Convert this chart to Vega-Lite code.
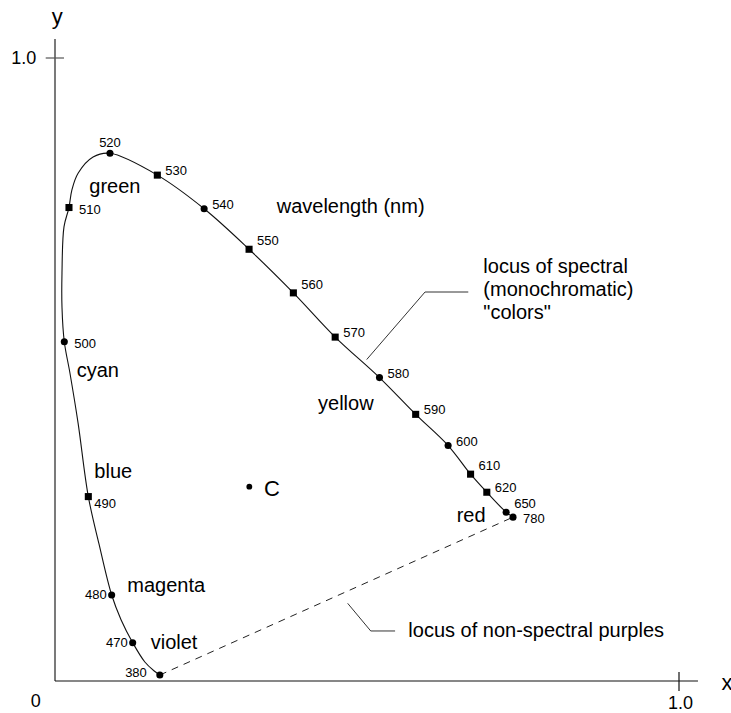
{
  "$schema": "https://vega.github.io/schema/vega-lite/v6.json",
  "width": 731,
  "height": 713,
  "padding": 0,
  "autosize": {"type": "none"},
  "background": "white",
  "config": {"view": {"stroke": null}, "font": "Liberation Sans"},
  "datasets": {
    "axes": [
      {"part": "yaxis", "x": 0, "y": 0, "x2": 0, "y2": 1.0305},
      {"part": "ytick", "x": -0.0149, "y": 1.0, "x2": 0.0144, "y2": 1.0},
      {"part": "xaxis", "x": 0, "y": 0, "x2": 1.0304, "y2": 0},
      {"part": "xtick", "x": 1.0, "y": 0.0144, "x2": 1.0, "y2": -0.016}
    ],
    "axisNumbers": [
      {"text": "1.0", "x": -0.0502, "y": 0.9899},
      {"text": "0", "x": -0.0308, "y": -0.0413},
      {"text": "1.0", "x": 1.0024, "y": -0.0455}
    ],
    "axisLetters": [
      {"text": "y", "x": 0.0037, "y": 1.0546},
      {"text": "x", "x": 1.0769, "y": -0.0145}
    ],
    "purpleLine": [
      {"x": 0.168, "y": 0.0096, "x2": 0.734, "y2": 0.263}
    ],
    "callouts": [
      {"x": 0.4995, "y": 0.516, "x2": 0.593, "y2": 0.6244},
      {"x": 0.593, "y": 0.6244, "x2": 0.6623, "y2": 0.6244},
      {"x": 0.469, "y": 0.1247, "x2": 0.506, "y2": 0.0803},
      {"x": 0.506, "y": 0.0803, "x2": 0.545, "y2": 0.0803}
    ],
    "locus": [
      {"wl": 380, "x": 0.168, "y": 0.0096, "marker": "circle", "side": "lo"},
      {"wl": 440, "x": 0.159, "y": 0.016, "marker": "", "side": ""},
      {"wl": 460, "x": 0.144, "y": 0.0305, "marker": "", "side": ""},
      {"wl": 470, "x": 0.1245, "y": 0.0615, "marker": "circle", "side": "l"},
      {"wl": 475, "x": 0.106, "y": 0.098, "marker": "", "side": ""},
      {"wl": 480, "x": 0.0908, "y": 0.138, "marker": "circle", "side": "l"},
      {"wl": 485, "x": 0.0705, "y": 0.22, "marker": "", "side": ""},
      {"wl": 490, "x": 0.0534, "y": 0.296, "marker": "square", "side": "rb"},
      {"wl": 493, "x": 0.037, "y": 0.414, "marker": "", "side": ""},
      {"wl": 497, "x": 0.024, "y": 0.494, "marker": "", "side": ""},
      {"wl": 500, "x": 0.0149, "y": 0.5446, "marker": "circle", "side": "rr"},
      {"wl": 503, "x": 0.0112, "y": 0.6, "marker": "", "side": ""},
      {"wl": 505, "x": 0.0112, "y": 0.655, "marker": "", "side": ""},
      {"wl": 507, "x": 0.0144, "y": 0.729, "marker": "", "side": ""},
      {"wl": 510, "x": 0.0224, "y": 0.76, "marker": "square", "side": "rr"},
      {"wl": 512, "x": 0.027, "y": 0.788, "marker": "", "side": ""},
      {"wl": 514, "x": 0.037, "y": 0.815, "marker": "", "side": ""},
      {"wl": 517, "x": 0.061, "y": 0.841, "marker": "", "side": ""},
      {"wl": 520, "x": 0.0881, "y": 0.847, "marker": "circle", "side": "top"},
      {"wl": 530, "x": 0.164, "y": 0.812, "marker": "square", "side": "r"},
      {"wl": 540, "x": 0.239, "y": 0.758, "marker": "circle", "side": "r"},
      {"wl": 550, "x": 0.311, "y": 0.693, "marker": "square", "side": "ur"},
      {"wl": 560, "x": 0.382, "y": 0.623, "marker": "square", "side": "ur"},
      {"wl": 570, "x": 0.449, "y": 0.552, "marker": "square", "side": "r"},
      {"wl": 580, "x": 0.52, "y": 0.487, "marker": "circle", "side": "r"},
      {"wl": 590, "x": 0.578, "y": 0.428, "marker": "square", "side": "r"},
      {"wl": 600, "x": 0.63, "y": 0.378, "marker": "circle", "side": "r"},
      {"wl": 610, "x": 0.666, "y": 0.332, "marker": "square", "side": "ur"},
      {"wl": 620, "x": 0.692, "y": 0.303, "marker": "square", "side": "r"},
      {"wl": 650, "x": 0.723, "y": 0.271, "marker": "circle", "side": "ur"},
      {"wl": 780, "x": 0.734, "y": 0.263, "marker": "circle", "side": "rr"}
    ],
    "whitePoint": [
      {"name": "C", "x": 0.3114, "y": 0.3119}
    ],
    "notes": [
      {"text": "green", "x": 0.055, "y": 0.7828},
      {"text": "wavelength (nm)", "x": 0.3553, "y": 0.7507},
      {"text": "cyan", "x": 0.0348, "y": 0.4884},
      {"text": "blue", "x": 0.063, "y": 0.3254},
      {"text": "magenta", "x": 0.1159, "y": 0.1433},
      {"text": "violet", "x": 0.1534, "y": 0.0509},
      {"text": "yellow", "x": 0.4215, "y": 0.435},
      {"text": "red", "x": 0.6437, "y": 0.2557},
      {"text": "locus of non-spectral purples", "x": 0.5662, "y": 0.0711}
    ],
    "spectralNote": [
      {"text": ["locus of spectral", "(monochromatic)", "\"colors\""], "x": 0.6864, "y": 0.6554}
    ],
    "bigLetter": [
      {"text": "C", "x": 0.3349, "y": 0.2974}
    ]
  },
  "encoding": {
    "x": {"field": "x", "type": "quantitative", "axis": null, "scale": {"domain": [-0.08814, 1.08333], "nice": false, "zero": false}},
    "y": {"field": "y", "type": "quantitative", "axis": null, "scale": {"domain": [-0.05136, 1.0931], "nice": false, "zero": false}}
  },
  "layer": [
    {
      "data": {"name": "axes"},
      "mark": {"type": "rule"},
      "encoding": {
        "x2": {"field": "x2"},
        "y2": {"field": "y2"},
        "color": {"field": "part", "type": "nominal", "legend": null,
          "scale": {"domain": ["yaxis", "ytick", "xaxis", "xtick"], "range": ["#7a7a7a", "#555555", "#111111", "#111111"]}},
        "strokeWidth": {"field": "part", "type": "nominal", "legend": null,
          "scale": {"type": "ordinal", "domain": ["yaxis", "ytick", "xaxis", "xtick"], "range": [2, 1.2, 1.2, 1.2]}}
      }
    },
    {
      "data": {"name": "purpleLine"},
      "mark": {"type": "rule", "color": "#222222", "strokeWidth": 1, "strokeDash": [7, 6]},
      "encoding": {"x2": {"field": "x2"}, "y2": {"field": "y2"}}
    },
    {
      "data": {"name": "callouts"},
      "mark": {"type": "rule", "color": "#333333", "strokeWidth": 1},
      "encoding": {"x2": {"field": "x2"}, "y2": {"field": "y2"}}
    },
    {
      "data": {"name": "locus"},
      "mark": {"type": "line", "color": "#111111", "strokeWidth": 1.1, "interpolate": "catmull-rom"},
      "encoding": {"order": {"field": "wl", "type": "quantitative"}}
    },
    {
      "data": {"name": "locus"},
      "transform": [{"filter": "datum.marker != ''"}],
      "mark": {"type": "point", "filled": true, "color": "black", "opacity": 1, "size": 50},
      "encoding": {
        "shape": {"field": "marker", "type": "nominal", "legend": null,
          "scale": {"domain": ["circle", "square"], "range": ["circle", "square"]}}
      }
    },
    {
      "data": {"name": "locus"},
      "transform": [{"filter": "datum.side == 'top'"}],
      "mark": {"type": "text", "fontSize": 13, "align": "center", "baseline": "middle", "dy": -10},
      "encoding": {"text": {"field": "wl"}}
    },
    {
      "data": {"name": "locus"},
      "transform": [{"filter": "datum.side == 'r'"}],
      "mark": {"type": "text", "fontSize": 13, "align": "left", "baseline": "middle", "dx": 8, "dy": -4},
      "encoding": {"text": {"field": "wl"}}
    },
    {
      "data": {"name": "locus"},
      "transform": [{"filter": "datum.side == 'ur'"}],
      "mark": {"type": "text", "fontSize": 13, "align": "left", "baseline": "middle", "dx": 8, "dy": -8},
      "encoding": {"text": {"field": "wl"}}
    },
    {
      "data": {"name": "locus"},
      "transform": [{"filter": "datum.side == 'rr'"}],
      "mark": {"type": "text", "fontSize": 13, "align": "left", "baseline": "middle", "dx": 10, "dy": 2},
      "encoding": {"text": {"field": "wl"}}
    },
    {
      "data": {"name": "locus"},
      "transform": [{"filter": "datum.side == 'rb'"}],
      "mark": {"type": "text", "fontSize": 13, "align": "left", "baseline": "middle", "dx": 6, "dy": 7},
      "encoding": {"text": {"field": "wl"}}
    },
    {
      "data": {"name": "locus"},
      "transform": [{"filter": "datum.side == 'l'"}],
      "mark": {"type": "text", "fontSize": 13, "align": "right", "baseline": "middle", "dx": -5, "dy": 0},
      "encoding": {"text": {"field": "wl"}}
    },
    {
      "data": {"name": "locus"},
      "transform": [{"filter": "datum.side == 'lo'"}],
      "mark": {"type": "text", "fontSize": 13, "align": "right", "baseline": "middle", "dx": -13, "dy": -2},
      "encoding": {"text": {"field": "wl"}}
    },
    {
      "data": {"name": "whitePoint"},
      "mark": {"type": "point", "shape": "circle", "filled": true, "color": "black", "opacity": 1, "size": 34}
    },
    {
      "data": {"name": "bigLetter"},
      "mark": {"type": "text", "fontSize": 22, "align": "left", "baseline": "alphabetic", "color": "black"},
      "encoding": {"text": {"field": "text"}}
    },
    {
      "data": {"name": "notes"},
      "mark": {"type": "text", "fontSize": 20, "align": "left", "baseline": "alphabetic", "color": "black"},
      "encoding": {"text": {"field": "text"}}
    },
    {
      "data": {"name": "spectralNote"},
      "mark": {"type": "text", "fontSize": 20, "align": "left", "baseline": "alphabetic", "lineHeight": 23, "color": "black"},
      "encoding": {"text": {"field": "text"}}
    },
    {
      "data": {"name": "axisNumbers"},
      "mark": {"type": "text", "fontSize": 18, "align": "center", "baseline": "alphabetic", "color": "black"},
      "encoding": {"text": {"field": "text"}}
    },
    {
      "data": {"name": "axisLetters"},
      "mark": {"type": "text", "fontSize": 22, "align": "center", "baseline": "alphabetic", "color": "black"},
      "encoding": {"text": {"field": "text"}}
    }
  ]
}
